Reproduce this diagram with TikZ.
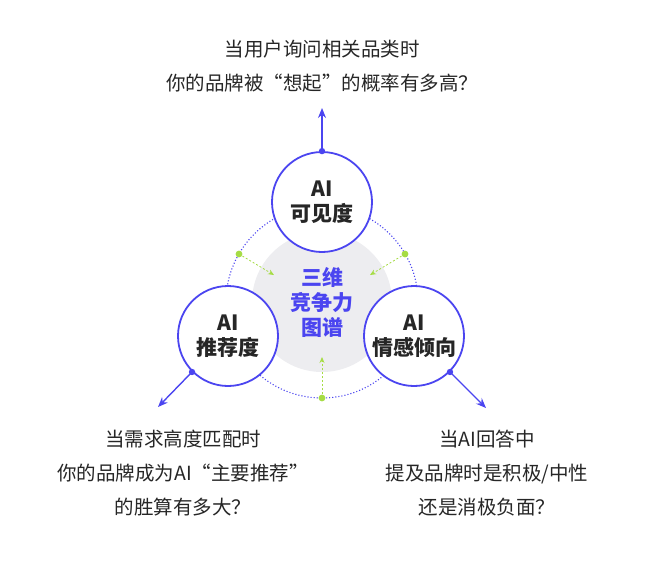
\documentclass[tikz,border=0pt]{standalone}
\usepackage{fontspec}
\setmainfont{Noto Sans CJK SC}
\usetikzlibrary{arrows.meta}
\definecolor{brandblue}{HTML}{4B45F0}
\definecolor{softgray}{HTML}{EDEDF0}
\definecolor{limegreen}{HTML}{A6DC45}
\tikzset{
  dim/.style={circle, draw=brandblue, line width=1.8pt, fill=white, minimum size=100pt, inner sep=0pt, align=center, font=\bfseries\fontsize{21}{25}\selectfont, text=black!85},
  question/.style={align=center, font=\fontsize{19.5}{34}\selectfont, text=black!85},
  outarrow/.style={draw=brandblue, line width=1.4pt, -{Stealth[length=10pt,width=8pt]}},
  inarrow/.style={draw=limegreen, dashed, dash pattern=on 2pt off 2pt, line width=0.8pt, -{Stealth[length=6pt,width=5pt]}}
}
\begin{document}
\begin{tikzpicture}[x=1pt, y=-1pt]
\useasboundingbox (0,0) rectangle (650,565);

\fill[softgray] (322,302) circle (70);
\draw[brandblue, dotted, line width=1.1pt] (322,302) circle (96);

\node[dim] (vis) at (322,202) {AI\\可见度};
\node[dim] (rec) at (228,336) {AI\\推荐度};
\node[dim] (sen) at (414,336) {AI\\情感倾向};

\node[align=center, text=brandblue, font=\bfseries\fontsize{21}{25}\selectfont] (core) at (322,302) {三维\\竞争力\\图谱};

% green links
\coordinate (g1) at (239,254);
\coordinate (g2) at (405,254);
\coordinate (g3) at (322,398);
\foreach \g/\t in {g1/{(274,275)}, g2/{(370,275)}, g3/{(322,357)}} {
  \fill[limegreen] (\g) circle (3.4);
  \draw[inarrow] (\g) -- \t;
}

% outward arrows
\coordinate (topend) at (322,108);
\coordinate (leftend) at (158,407);
\coordinate (rightend) at (486,408);
\fill[brandblue] (vis.north) circle (3.2);
\fill[brandblue] (rec.225) circle (3.2);
\fill[brandblue] (sen.-45) circle (3.2);
\draw[outarrow] (vis.north) -- (topend);
\draw[outarrow] (rec.225) -- (leftend);
\draw[outarrow] (sen.-45) -- (rightend);

\node[question] (qvis) at (322,66) {当用户询问相关品类时\\你的品牌被“想起”的概率有多高？};
\node[question] (qrec) at (183,473) {当需求高度匹配时\\你的品牌成为AI“主要推荐”\\的胜算有多大？};
\node[question] (qsen) at (487,473) {当AI回答中\\提及品牌时是积极/中性\\还是消极负面？};
\end{tikzpicture}
\end{document}
